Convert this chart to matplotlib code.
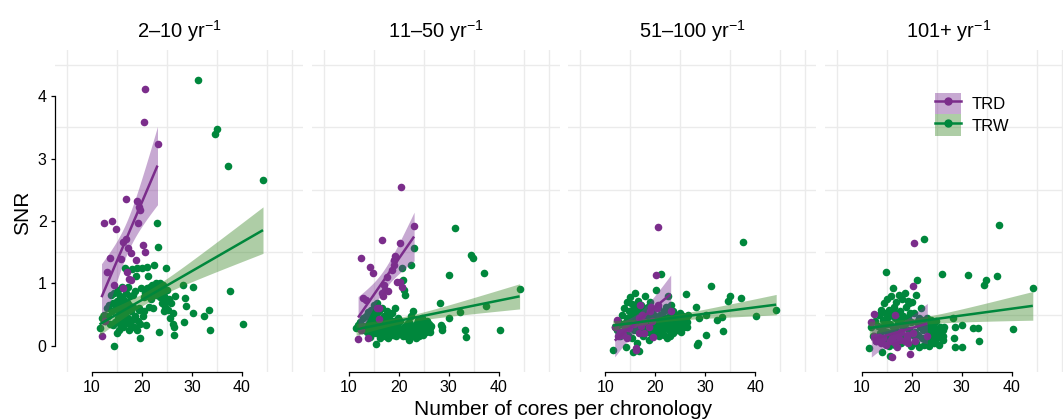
import numpy as np
import matplotlib
matplotlib.use('Agg')
import matplotlib.pyplot as plt
from matplotlib.patches import Patch
from matplotlib.lines import Line2D

plt.rcParams['font.family'] = ['Liberation Sans', 'DejaVu Sans']
plt.rcParams['mathtext.fontset'] = 'custom'
plt.rcParams['mathtext.rm'] = 'Liberation Sans'
plt.rcParams['mathtext.it'] = 'Liberation Sans:italic'
plt.rcParams['mathtext.bf'] = 'Liberation Sans:bold'

# ---------------- data ----------------
bands = ["2\u201310 yr$^{-1}$", "11\u201350 yr$^{-1}$", "51\u2013100 yr$^{-1}$", "101+ yr$^{-1}$"]
groups = ["TRD", "TRW"]
x_ticks = [10, 20, 30, 40]
y_ticks = [0, 1, 2, 3, 4]

trd_cores = [11.9, 12.4, 12.5, 12.9, 13.5, 13.9, 14.3, 14.8, 15.7, 16.1,
             16.1, 16.7, 16.7, 16.9, 17.1, 17.3, 17.7, 17.8, 18.7, 19.0,
             19.1, 19.3, 19.6, 20.2, 20.3, 20.5, 20.6, 23.1]
trd_snr_2_10 = [0.16, 1.96, 0.40, 1.18, 1.40, 2.00, 0.98, 1.87, 1.39, 1.66,
                0.92, 2.35, 1.71, 1.19, 1.56, 1.07, 1.05, 1.48, 1.37, 2.32,
                1.97, 2.23, 2.18, 1.61, 3.58, 4.12, 1.51, 3.23]
trd_snr_11_50 = [0.11, 1.41, 0.25, 0.76, 0.73, 0.13, 1.26, 1.17, 0.60, 0.43,
                 0.60, 1.69, 0.85, 0.80, 0.98, 0.90, 1.11, 0.88, 1.22, 1.37,
                 1.29, 1.44, 1.03, 1.64, 1.03, 2.54, 0.95, 1.92]
trd_snr_51_100 = [0.30, 0.41, 0.15, 0.22, 0.18, 0.28, 0.12, 0.29, 0.35, -0.04,
                  -0.07, 0.20, 0.45, 0.66, 0.32, 0.50, 0.20, 0.38, 0.30, 0.55,
                  0.62, 0.40, 0.14, 1.13, 0.60, 1.90, 0.66, 0.55]
trd_snr_101 = [0.38, 0.51, 0.15, 0.08, 0.14, 0.05, 0.12, 0.02, 0.08, -0.18,
               0.12, 0.50, 0.05, 0.18, -0.02, 0.15, 0.10, 0.22, 0.08, 0.12,
               0.18, 0.05, -0.13, 0.96, 0.20, 1.64, 0.08, 0.16]

trw_cores = [11.5, 11.9, 12.3, 12.6, 12.9, 13.2, 13.4, 13.6, 13.8, 14.0,
             14.1, 14.3, 14.4, 14.6, 14.7, 14.9, 15.0, 15.1, 15.2, 15.3,
             15.4, 15.5, 15.6, 15.7, 15.8, 15.9, 16.0, 16.1, 16.2, 16.3,
             16.4, 16.5, 16.6, 16.7, 16.8, 16.9, 17.0, 17.1, 17.2, 17.4,
             17.5, 17.6, 17.8, 17.9, 18.0, 18.2, 18.3, 18.5, 18.6, 18.7,
             18.9, 19.0, 19.2, 19.3, 19.5, 19.6, 19.8, 19.9, 20.1, 20.3,
             20.4, 20.6, 20.8, 20.9, 21.0, 21.1, 21.2, 21.4, 21.5, 21.7,
             21.8, 22.0, 22.1, 22.2, 22.4, 22.5, 22.7, 22.8, 22.9, 23.0,
             23.1, 23.3, 23.4, 23.5, 23.6, 23.8, 23.9, 24.0, 24.1, 24.3,
             24.4, 24.6, 24.7, 24.9, 25.0, 25.2, 25.4, 25.6, 25.8, 14.2,
             15.1, 16.3, 17.3, 18.1, 19.4,
             26.1, 26.2, 26.3, 26.3, 26.5, 28.2, 28.4, 28.6, 28.7, 30.1,
             30.1, 31.2, 32.3, 33.3, 33.5, 34.5, 34.9, 37.1, 37.5, 40.2, 44.2]
trw_snr_2_10 = [0.28, 0.45, 0.50, 0.40, 0.60, 0.48, 0.66, 0.35, 0.82, 0.55,
                0.68, 0.00, 0.85, 0.38, 0.60, 0.20, 0.72, 0.45, 0.90, 0.26,
                0.55, 0.80, 0.35, 0.65, 0.48, 0.95, 0.58, 0.30, 0.75, 0.42,
                0.62, 1.24, 0.52, 0.85, 0.36, 0.70, 0.58, 0.45, 0.95, 0.66,
                0.35, 0.80, 0.55, 0.42, 1.23, 0.62, 0.30, 0.48, 0.88, 1.12,
                0.25, 1.24, 0.40, 0.58, 0.13, 0.35, 0.92, 1.25, 0.48, 0.78,
                0.55, 0.85, 0.33, 1.27, 0.92, 1.12, 0.80, 0.62, 0.95, 0.88,
                0.75, 0.98, 0.85, 0.60, 1.30, 0.92, 0.82, 1.00, 1.96, 0.88,
                1.58, 0.95, 0.22, 0.78, 1.00, 0.90, 0.68, 0.85, 0.98, 0.55,
                0.80, 0.62, 1.25, 0.72, 0.90, 0.58, 0.75, 0.45, 0.68, 0.33,
                0.70, 0.50, 0.25, 0.82, 0.60,
                0.35, 0.53, 0.18, 0.30, 0.79, 0.97, 0.38, 0.77, 0.63, 0.95,
                0.53, 4.26, 0.48, 0.58, 0.25, 3.39, 3.48, 2.88, 0.88, 0.35, 2.66]
trw_snr_11_50 = [0.28, 0.34, 0.38, 0.26, 0.44, 0.32, 0.48, 0.22, 0.54, 0.36,
                 0.26, 0.14, 0.58, 0.32, 0.44, 0.20, 0.65, 0.38, 0.30, 0.50,
                 0.20, 0.03, 0.38, 0.68, 0.30, 0.45, 0.22, 0.55, 0.35, 0.12,
                 0.42, 0.28, 0.60, 0.18, 0.38, 0.25, 0.48, 0.32, 0.15, 0.40,
                 0.22, 0.55, 0.30, 0.12, 0.45, 0.25, 0.35, 0.20, 0.52, 0.30,
                 0.18, 0.40, 0.25, 0.60, 0.15, 0.32, 0.45, 0.22, 0.28, 0.40,
                 0.22, 1.24, 0.15, 1.06, 0.90, 0.30, 0.82, 0.25, 0.15, 0.35,
                 0.28, 0.10, 0.38, 0.22, 0.48, 1.29, 0.30, 0.18, 0.55, 0.32,
                 1.56, 0.25, 0.12, 0.35, 0.20, 0.42, 0.25, 0.30, 0.15, 0.36,
                 0.22, 0.32, 0.45, 0.18, 0.28, 0.35, 0.22, 0.40, 0.25, 0.45,
                 0.52, 0.30, 0.42, 0.28, 0.38,
                 0.35, 0.28, 0.30, 0.22, 0.32, 0.69, 0.34, 0.26, 0.30, 1.13,
                 0.45, 1.89, 0.54, 0.25, 0.14, 1.46, 1.41, 1.17, 0.63, 0.25, 0.91]
trw_snr_51_100 = [-0.06, 0.30, 0.25, 0.40, 0.15, 0.35, 0.50, 0.22, 0.60, 0.30,
                  -0.02, 0.45, 0.70, 0.18, 0.55, 0.35, 0.78, 0.28, 0.48, 0.67,
                  0.12, -0.10, 0.40, 0.58, 0.25, 0.85, 0.45, 0.32, 0.62, 0.05,
                  0.50, 0.38, 0.72, -0.09, 0.28, 0.55, 0.40, 0.20, 0.65, 0.35,
                  0.50, 0.15, 0.58, 0.80, 0.30, 0.45, 0.22, 0.62, 0.38, 0.10,
                  0.52, 0.70, 0.30, 0.45, 0.20, 0.58, 0.35, 0.48, 0.89, 0.25,
                  0.40, 0.60, 0.15, 0.50, 0.30, 0.42, 1.15, 0.22, 0.35, 0.55,
                  0.18, 0.45, 0.28, 0.62, 0.12, 0.80, 0.38, 0.25, 0.50, 0.15,
                  0.65, 0.40, 0.30, 0.55, 0.20, 0.45, 0.35, 0.28, 0.50, 0.38,
                  0.25, 0.45, 0.30, 0.52, 0.40, 0.22, 0.35, 0.48, 0.30, 0.38,
                  0.55, 0.42, 0.28, 0.60, 0.15,
                  0.45, 0.83, 0.30, 0.38, 0.50, 0.62, 0.02, 0.05, 0.45, 0.17,
                  0.50, 0.96, 0.41, 0.46, 0.23, 0.72, 0.80, 0.76, 1.66, 0.47, 0.57]
trw_snr_101 = [-0.03, 0.30, 0.15, 0.40, 0.08, 0.32, 0.50, 0.20, 0.58, -0.10,
               0.25, 0.42, 0.68, 0.10, 0.52, 1.18, 0.35, 0.75, 0.18, 0.46,
               0.58, 0.00, -0.17, 0.35, 0.80, 0.20, 0.50, 0.08, 0.93, 0.30,
               0.62, 0.15, 0.45, 0.02, 0.70, 0.25, 0.52, 0.10, 0.38, 0.82,
               0.20, 0.55, 0.05, 0.40, 0.75, 0.28, 0.48, 0.12, 0.85, 0.35,
               0.62, 0.08, 0.45, 0.72, 0.25, 0.52, 0.00, 0.38, 0.70, 0.18,
               0.52, 0.22, 0.82, 0.05, 0.38, 1.05, 0.18, 0.45, -0.02, 0.30,
               0.60, 0.12, 0.42, 0.25, 0.02, 1.71, 0.35, 0.12, 0.28, 0.45,
               0.05, 0.38, 0.22, 0.00, 0.32, 0.18, 0.42, 0.08, 0.25, 0.35,
               0.05, 0.28, 0.20, 0.40, 0.12, 0.25, 0.02, 0.30, 0.18, 0.32,
               0.22, 0.55, 0.35, 0.45, 0.68,
               1.15, 0.25, 0.15, 0.10, 0.30, 0.44, 0.13, -0.02, 0.30, 0.34,
               -0.02, 1.13, 0.28, 0.28, 0.07, 0.98, 1.06, 1.12, 1.93, 0.27, 0.92]

trd_by_band = [trd_snr_2_10, trd_snr_11_50, trd_snr_51_100, trd_snr_101]
trw_by_band = [trw_snr_2_10, trw_snr_11_50, trw_snr_51_100, trw_snr_101]

# ---------------- style ----------------
PURPLE = '#7B2D8B'
GREEN = '#00873C'
PURPLE_FILL = '#7B3294'
GREEN_FILL = '#3F8A2C'
RIB_ALPHA = 0.42
GRID = '#EBEBEB'


def t_quantile(df, z=1.959964):
    try:
        from scipy import stats
        return stats.t.ppf(0.975, df)
    except Exception:
        return (z + (z**3 + z) / (4 * df)
                + (5 * z**5 + 16 * z**3 + 3 * z) / (96 * df**2))


def lm_band(x, y, n=100):
    x = np.asarray(x, float)
    y = np.asarray(y, float)
    k = len(x)
    b, a = np.polyfit(x, y, 1)
    xs = np.linspace(x.min(), x.max(), n)
    yh = a + b * xs
    res = y - (a + b * x)
    s = np.sqrt(np.sum(res**2) / (k - 2))
    sxx = np.sum((x - x.mean())**2)
    se = s * np.sqrt(1.0 / k + (xs - x.mean())**2 / sxx)
    t = t_quantile(k - 2)
    return xs, yh, yh - t * se, yh + t * se


W, H = 1063, 419
fig = plt.figure(figsize=(W / 100, H / 100), dpi=100)

axes = []
for i in range(4):
    left = (55 + 256.6 * i) / W
    ax = fig.add_axes([left, (H - 372) / H, 248 / W, 322 / H])
    axes.append(ax)

for i, ax in enumerate(axes):
    ax.set_xlim(2.6, 52.2)
    ax.set_ylim(-0.42, 4.74)
    ax.set_xticks(x_ticks)
    ax.set_xticks([5, 15, 25, 35, 45, 50], minor=True)
    ax.set_yticks(y_ticks)
    ax.set_yticks([0.5, 1.5, 2.5, 3.5, 4.5], minor=True)
    ax.grid(False, which='major')
    ax.grid(True, which='minor', color=GRID, lw=1.0)
    ax.set_axisbelow(True)
    ax.tick_params(which='minor', length=0)
    ax.tick_params(which='major', length=3, width=0.9, direction='out',
                   labelsize=11.5, colors='black', pad=3)
    for sp in ['top', 'right']:
        ax.spines[sp].set_visible(False)
    ax.spines['bottom'].set_bounds(10, 40)
    ax.spines['bottom'].set_linewidth(0.9)
    if i == 0:
        ax.spines['left'].set_bounds(0, 4)
        ax.spines['left'].set_linewidth(0.9)
    else:
        ax.spines['left'].set_visible(False)
        ax.tick_params(axis='y', which='both', left=False, labelleft=False)

    ax.scatter(trw_cores, trw_by_band[i], s=30, color=GREEN, lw=0, zorder=2)
    ax.scatter(trd_cores, trd_by_band[i], s=30, color=PURPLE, lw=0, zorder=3)

    for xv, yv, lc, fc in [(trd_cores, trd_by_band[i], PURPLE, PURPLE_FILL),
                           (trw_cores, trw_by_band[i], GREEN, GREEN_FILL)]:
        xs, yh, lo, hi = lm_band(xv, yv)
        ax.fill_between(xs, lo, hi, color=fc, alpha=RIB_ALPHA, lw=0, zorder=4)
        ax.plot(xs, yh, color=lc, lw=1.8, zorder=5, solid_capstyle='butt')

    ax.set_title(bands[i], fontsize=14.5, pad=9)

handles = [
    (Patch(facecolor=PURPLE_FILL, alpha=RIB_ALPHA, lw=0),
     Line2D([], [], color=PURPLE, lw=1.8, marker='o', markersize=5)),
    (Patch(facecolor=GREEN_FILL, alpha=RIB_ALPHA, lw=0),
     Line2D([], [], color=GREEN, lw=1.8, marker='o', markersize=5)),
]
fig.legend(handles, groups, loc='upper left',
           bbox_to_anchor=(935 / W, 1 - 93 / H), bbox_transform=fig.transFigure,
           frameon=False, fontsize=12, borderpad=0, borderaxespad=0,
           handlelength=1.55, handleheight=1.6, handletextpad=0.65,
           labelspacing=0)

fig.text(563.5 / W, 4.5 / H, 'Number of cores per chronology', ha='center',
         va='baseline', fontsize=15)
fig.text(22.5 / W, 1 - 213 / H, 'SNR', ha='center', va='center',
         rotation=90, fontsize=15)

fig.savefig('out.png', dpi=100)
